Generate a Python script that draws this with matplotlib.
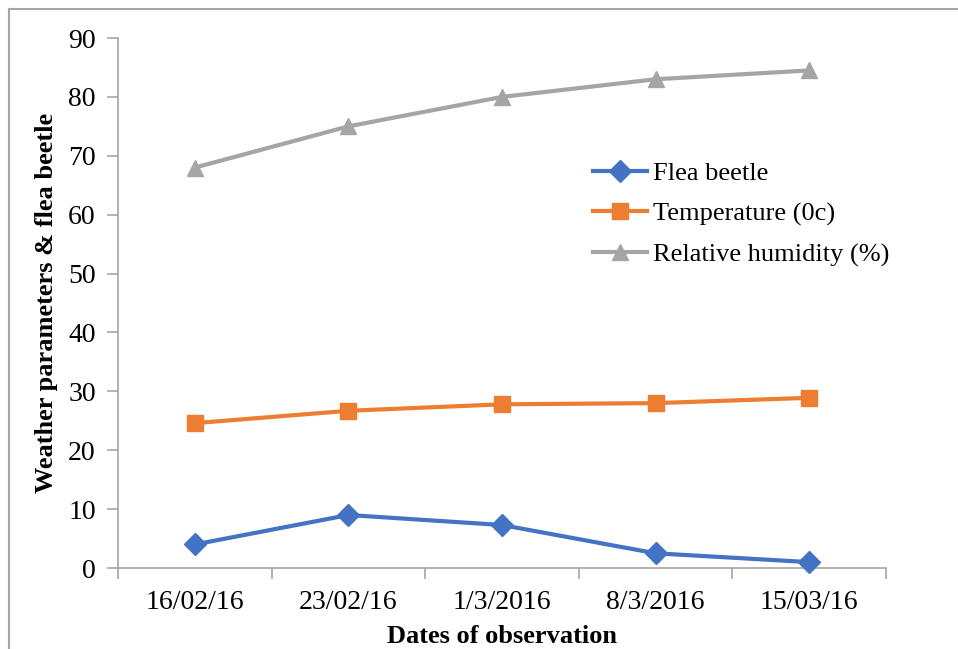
import matplotlib
matplotlib.use("Agg")
import matplotlib.pyplot as plt
from matplotlib.lines import Line2D
import numpy as np

plt.rcParams['font.family'] = ['Liberation Serif', 'DejaVu Serif']

dates = ['16/02/16', '23/02/16', '1/3/2016', '8/3/2016', '15/03/16']
flea_beetle = [4.0, 9.0, 7.3, 2.5, 1.0]
temperature = [24.6, 26.7, 27.8, 28.0, 28.9]
humidity = [68.0, 75.0, 80.0, 83.0, 84.5]

series = [
    ('Flea beetle', flea_beetle, '#4472C4', 'D', 11),
    ('Temperature (0c)', temperature, '#ED7D31', 's', 12),
    ('Relative humidity (%)', humidity, '#A5A5A5', '^', 12),
]

fig = plt.figure(figsize=(9.58, 6.49), dpi=100)
ax = fig.add_axes([0.1232, 0.1248, 0.8016, 0.8166])

x = np.arange(len(dates))
for name, vals, col, mk, ms in series:
    ax.plot(x, vals, color=col, lw=3, marker=mk, markersize=ms,
            label=name, clip_on=False, zorder=3)

ax.set_xlim(-0.5, len(dates) - 0.5)
ax.set_ylim(0, 90)
ax.set_yticks(np.arange(0, 91, 10))
ax.set_xticks(x)
ax.set_xticklabels(dates)
ax.set_xticks(np.arange(-0.5, len(dates), 1), minor=True)

for s in ['top', 'right']:
    ax.spines[s].set_visible(False)
for s in ['left', 'bottom']:
    ax.spines[s].set_color('#A6A6A6')
    ax.spines[s].set_linewidth(1.2)

ax.tick_params(axis='y', colors='#A6A6A6', labelcolor='black', length=8,
               width=1.2, labelsize=20, pad=8)
ax.tick_params(axis='x', which='major', length=0, labelsize=20, pad=16)
ax.tick_params(axis='x', which='minor', colors='#A6A6A6', length=8, width=1.2)

ax.set_xlabel('Dates of observation', fontsize=19, fontweight='bold', labelpad=7)
ax.set_ylabel('Weather parameters & flea beetle', fontsize=19,
              fontweight='bold', labelpad=7)

ax.legend(loc='upper left', bbox_to_anchor=(0.605, 0.787), frameon=False,
          fontsize=19, handlelength=2.05, handletextpad=0.2, labelspacing=0.64,
          borderaxespad=0)

# chart area border (left and top only visible)
fig.add_artist(Line2D([0.0094, 0.0094], [0, 0.9855], color='#A6A6A6', lw=1.5,
                      transform=fig.transFigure))
fig.add_artist(Line2D([0.0094, 1.0], [0.9855, 0.9855], color='#A6A6A6', lw=1.5,
                      transform=fig.transFigure))

fig.savefig('out.png', dpi=100)
